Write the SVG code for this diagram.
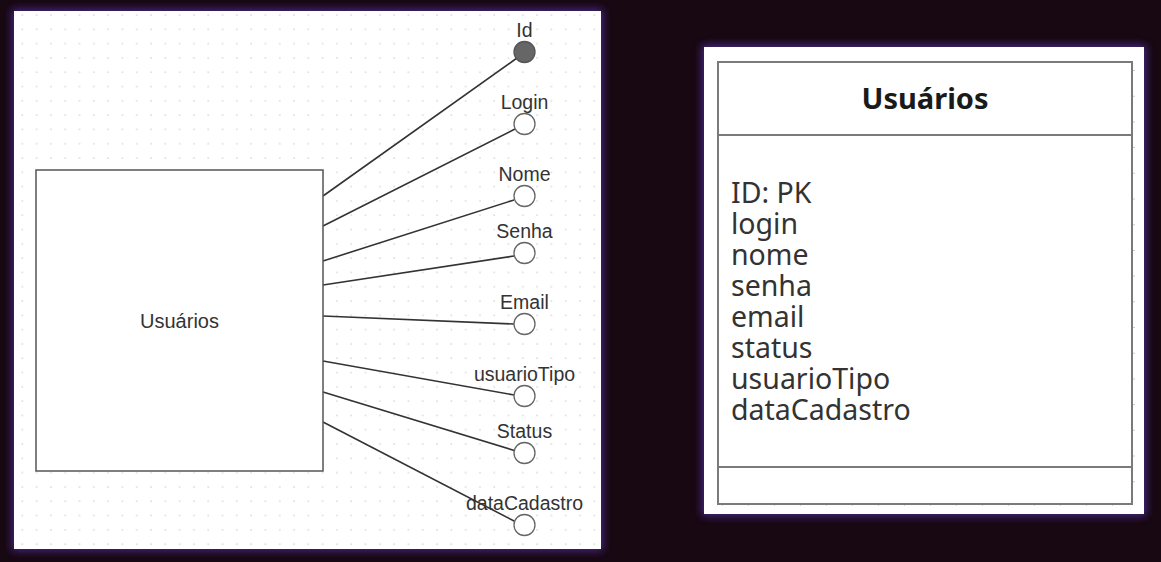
<svg xmlns="http://www.w3.org/2000/svg" width="1161" height="562" viewBox="0 0 1161 562">
<defs>
<pattern id="dots" patternUnits="userSpaceOnUse" x="21.3" y="14" width="14.3" height="14.3">
<rect x="0.4" y="0.4" width="1.3" height="1.3" fill="#c9c9c9"/>
</pattern>
<filter id="glow" x="-10%" y="-10%" width="120%" height="120%">
<feGaussianBlur stdDeviation="4"/>
</filter>
<style>
.lbl{font-family:"Liberation Sans",Arial,sans-serif;font-size:19.5px;fill:#333;text-anchor:middle}
.attr{fill:#fff;stroke:#666;stroke-width:1.3}
.pk{fill:#666;stroke:#555;stroke-width:1.3}
.edge{stroke:#333;stroke-width:1.6;fill:none}
.row{font-family:"Noto Sans","Open Sans",sans-serif;font-size:28.5px;fill:#333}
.ttl{font-family:"Noto Sans","Open Sans",sans-serif;font-size:29px;font-weight:bold;fill:#1a1a1a;text-anchor:middle}
.tbl{fill:none;stroke:#7a7a7a;stroke-width:2}
</style>
</defs>
<rect x="0" y="0" width="1161" height="562" fill="#170812"/>
<rect x="12" y="9" width="591" height="542" fill="#4b2c8f" filter="url(#glow)" opacity="0.9"/>
<rect x="702" y="45" width="444" height="471" fill="#4b2c8f" filter="url(#glow)" opacity="0.95"/>
<g id="panel-left">
<rect x="14" y="11" width="587" height="538" fill="#fff"/>
<rect x="14" y="11" width="587" height="538" fill="url(#dots)"/>
</g>
<g id="connectors">
<line class="edge" x1="323" y1="196" x2="517" y2="58"/>
<line class="edge" x1="323" y1="226" x2="515" y2="129"/>
<line class="edge" x1="323" y1="261" x2="514" y2="200"/>
<line class="edge" x1="323" y1="285" x2="514" y2="256"/>
<line class="edge" x1="323" y1="316" x2="514" y2="324"/>
<line class="edge" x1="323" y1="361" x2="514" y2="395"/>
<line class="edge" x1="323" y1="392" x2="516" y2="451"/>
<line class="edge" x1="323" y1="422" x2="516" y2="522"/>
</g>
<g id="entity-usuarios">
<rect x="36" y="170" width="287" height="301" fill="#fff" stroke="#555" stroke-width="1.5"/>
<text class="lbl" x="179.5" y="328" style="font-size:20px">Usuários</text>
</g>
<g id="attr-id"><circle class="pk" cx="524.5" cy="52" r="10.5"/><text class="lbl" x="524.5" y="37">Id</text></g>
<g id="attr-login"><circle class="attr" cx="524.5" cy="124" r="10.5"/><text class="lbl" x="524.5" y="109">Login</text></g>
<g id="attr-nome"><circle class="attr" cx="524.5" cy="196" r="10.5"/><text class="lbl" x="524.5" y="181">Nome</text></g>
<g id="attr-senha"><circle class="attr" cx="524.5" cy="253" r="10.5"/><text class="lbl" x="524.5" y="238">Senha</text></g>
<g id="attr-email"><circle class="attr" cx="524.5" cy="324" r="10.5"/><text class="lbl" x="524.5" y="309">Email</text></g>
<g id="attr-usuarioTipo"><circle class="attr" cx="524.5" cy="396" r="10.5"/><text class="lbl" x="524.5" y="381">usuarioTipo</text></g>
<g id="attr-status"><circle class="attr" cx="524.5" cy="453" r="10.5"/><text class="lbl" x="524.5" y="438">Status</text></g>
<g id="attr-dataCadastro"><circle class="attr" cx="524.5" cy="525" r="10.5"/><text class="lbl" x="524.5" y="510">dataCadastro</text></g>
<g id="table-usuarios">
<rect x="704" y="47" width="440" height="467" fill="#fff"/>
<line x1="1134" y1="70" x2="1134" y2="504" stroke="#aaa" stroke-width="1.2" stroke-dasharray="1 24.7"/>
<line x1="722" y1="505" x2="1132" y2="505" stroke="#aaa" stroke-width="1.2" stroke-dasharray="1 25"/>
<rect class="tbl" x="718" y="62" width="414" height="442"/>
<line class="tbl" x1="718" y1="135" x2="1132" y2="135"/>
<line class="tbl" x1="718" y1="467" x2="1132" y2="467"/>
<text class="ttl" x="925" y="109">Usuários</text>
<text class="row" x="731"><tspan x="731" y="203">ID: PK</tspan><tspan x="731" y="234">login</tspan><tspan x="731" y="265">nome</tspan><tspan x="731" y="296">senha</tspan><tspan x="731" y="327">email</tspan><tspan x="731" y="358">status</tspan><tspan x="731" y="389">usuarioTipo</tspan><tspan x="731" y="420">dataCadastro</tspan></text>
</g>
</svg>
